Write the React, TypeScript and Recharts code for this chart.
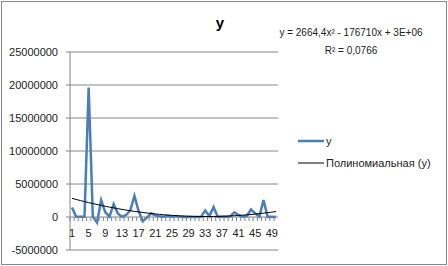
import { LineChart, Line, XAxis, YAxis, CartesianGrid, Legend } from 'recharts'

const CATEGORIES = [
  '1', '2', '3', '4', '5', '6', '7', '8', '9', '10',
  '11', '12', '13', '14', '15', '16', '17', '18', '19', '20',
  '21', '22', '23', '24', '25', '26', '27', '28', '29', '30',
  '31', '32', '33', '34', '35', '36', '37', '38', '39', '40',
  '41', '42', '43', '44', '45', '46', '47', '48', '49', '50',
]

const Y_VALUES = [
  1450000, 30000, 20000, 40000, 19600000, 50000, -850000, 2550000, 700000, 50000,
  1950000, 550000, 30000, 300000, 1000000, 3200000, 900000, -650000, -100000, 550000,
  250000, 100000, 50000, 200000, 50000, 150000, 20000, 10000, 10000, 10000,
  10000, 20000, 1000000, 150000, 1500000, 50000, 20000, 20000, 100000, 700000,
  300000, 50000, 150000, 1150000, 550000, 50000, 2550000, 20000, 30000, 10000,
]

// coefficients as printed on the chart: y = 2664,4x² - 176710x + 3E+06
const TREND_COEFS = [2664.4, -176710, 3000000]

const Y_TICKS = [-5000000, 0, 5000000, 10000000, 15000000, 20000000, 25000000]

const data = CATEGORIES.map((c, i) => {
  const x = i + 1
  return {
    cat: c,
    y: Y_VALUES[i],
    trend: TREND_COEFS[0] * x * x + TREND_COEFS[1] * x + TREND_COEFS[2],
  }
})

const FONT = '"Liberation Sans", Arial, sans-serif'
const GRID = '#868686'
const TEXT = '#222'
const ZERO_SHIFT = 33

const XTick = (props: any) => {
  const { x, y, payload, index } = props
  const y0 = y - ZERO_SHIFT
  return (
    <g>
      <line x1={x - 2} x2={x - 2} y1={y0} y2={y0 + 4} stroke={GRID} />
      {index % 4 === 0 && (
        <text x={x} y={y0 + 20} textAnchor="middle" fontSize={11} fontFamily={FONT} fill={TEXT}>
          {payload.value}
        </text>
      )}
    </g>
  )
}

const renderLegend = ({ payload }: any) => (
  <div style={{ fontFamily: FONT, fontSize: 11, color: TEXT }}>
    {(payload || []).map((entry: any, i: number) => (
      <div key={i} style={{ display: 'flex', alignItems: 'center', height: 22 }}>
        <svg width={26} height={4} style={{ marginRight: 2 }}>
          <line x1={0} x2={26} y1={2} y2={2} stroke={entry.color} strokeWidth={i === 0 ? 2.5 : 1} />
        </svg>
        <span>{entry.value}</span>
      </div>
    ))}
  </div>
)

export default function App() {
  return (
    <div style={{ position: 'relative', width: 448, height: 266, background: '#fff' }}>
      <style>{'body{margin:0}'}</style>
      <div
        style={{
          position: 'absolute', left: 1, top: 1, width: 444, height: 262,
          border: `1px solid ${GRID}`,
        }}
      />
      <div
        style={{
          position: 'absolute', left: 200, top: 14, width: 40, textAlign: 'center',
          fontFamily: FONT, fontSize: 15, fontWeight: 'bold', color: '#000',
        }}
      >
        y
      </div>
      <div
        style={{
          position: 'absolute', left: 261, top: 24, width: 180, textAlign: 'center',
          fontFamily: FONT, fontSize: 10, color: TEXT, lineHeight: '18px',
        }}
      >
        <div>y = 2664,4x² - 176710x + 3E+06</div>
        <div>R² = 0,0766</div>
      </div>
      <div style={{ position: 'absolute', left: 0, top: 0 }}>
        <LineChart width={448} height={266} data={data} margin={{ top: 52, right: 170, bottom: 0, left: 0 }}>
          <CartesianGrid vertical={false} stroke={GRID} />
          <XAxis
            dataKey="cat"
            interval={0}
            height={16}
            padding={{ left: 2, right: 2 }}
            axisLine={false}
            tickLine={false}
            tickSize={0}
            tickMargin={0}
            tick={<XTick />}
          />
          <YAxis
            width={70}
            domain={[-5000000, 25000000]}
            ticks={Y_TICKS}
            interval={0}
            stroke={GRID}
            tickSize={4}
            tickMargin={8}
            tick={{ fontSize: 11, fontFamily: FONT, fill: TEXT }}
          />
          <Legend
            layout="horizontal"
            verticalAlign="middle"
            align="center"
            content={renderLegend}
            wrapperStyle={{ left: 298, top: 130, width: 150 }}
          />
          <Line
            dataKey="y"
            name="y"
            stroke="#4A7EBB"
            strokeWidth={2.5}
            dot={false}
            type="linear"
            isAnimationActive={false}
          />
          <Line
            dataKey="trend"
            name="Полиномиальная (y)"
            stroke="#000"
            strokeWidth={1}
            dot={false}
            type="monotone"
            isAnimationActive={false}
          />
        </LineChart>
      </div>
    </div>
  )
}
